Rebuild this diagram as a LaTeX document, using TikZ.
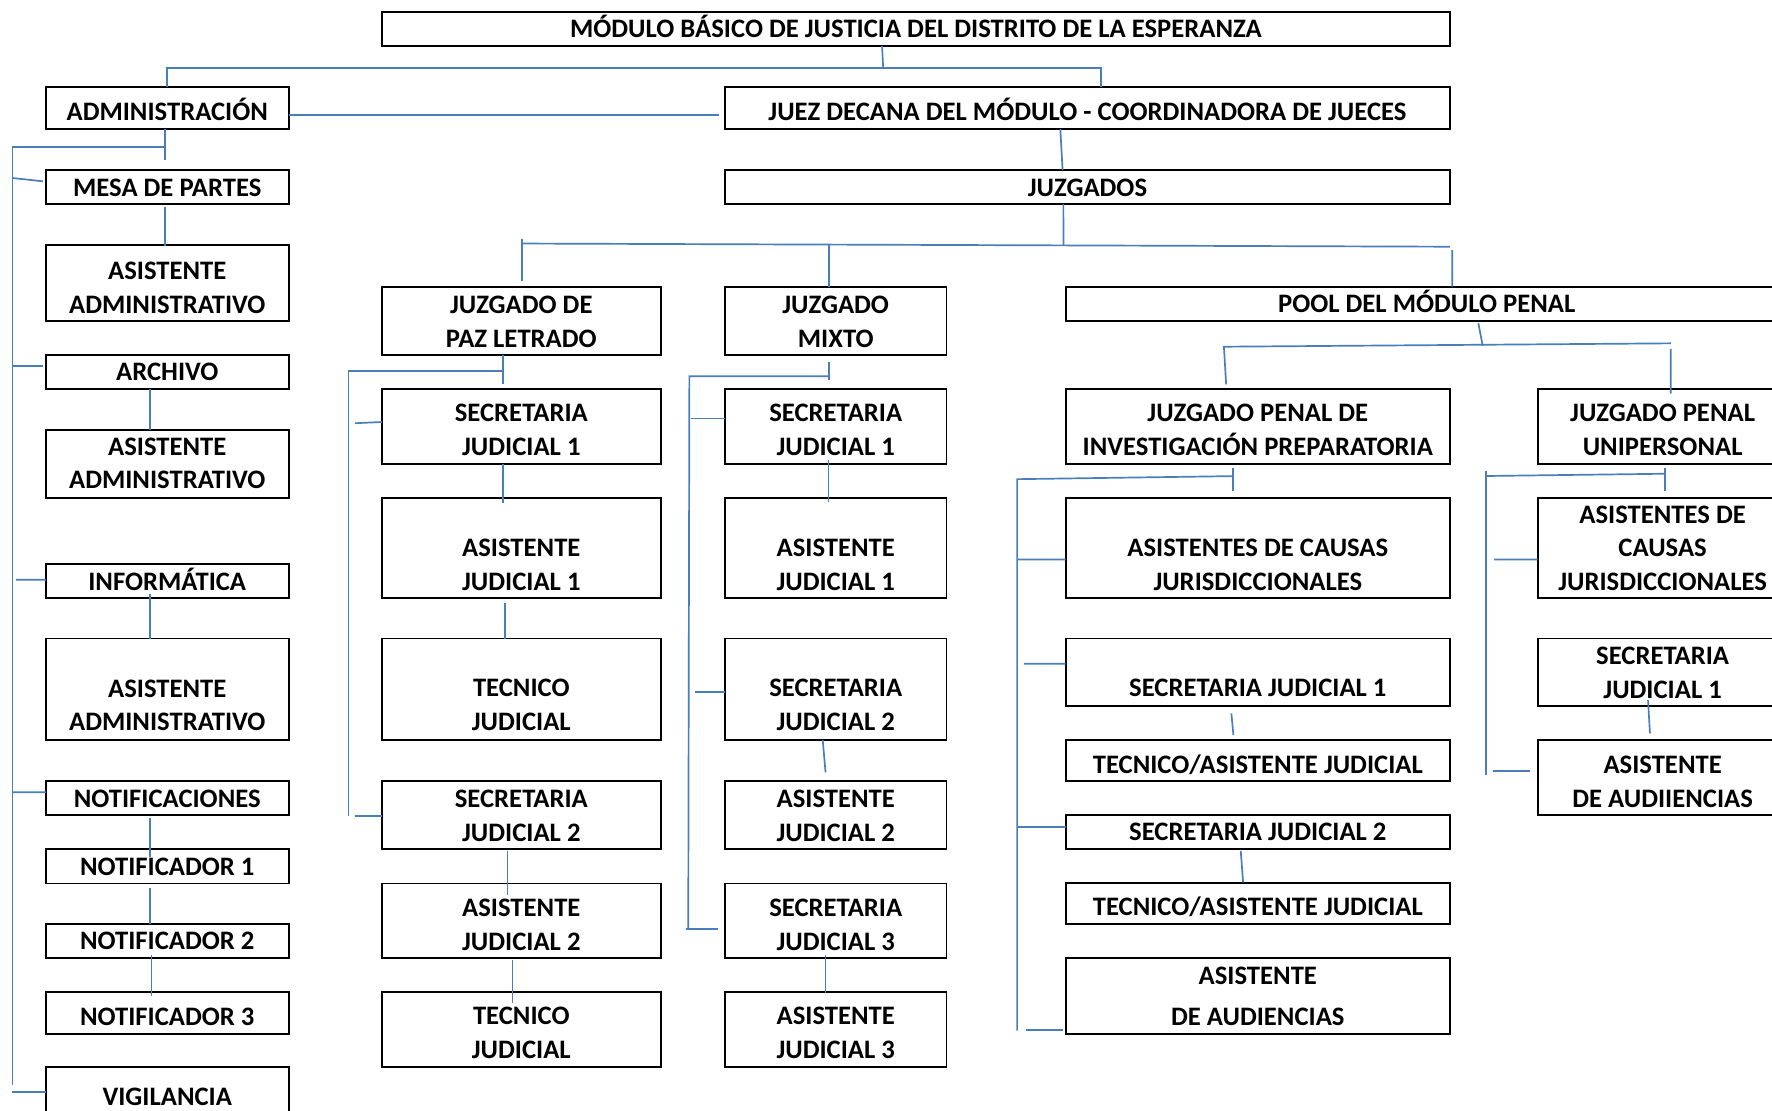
\documentclass[tikz,border=0pt]{standalone}
\usepackage{fontspec}
\setmainfont{Carlito}
\definecolor{wireblue}{RGB}{74,126,187}
\tikzset{
  box/.style={draw=black, line width=1.6pt, inner sep=0pt, outer sep=0pt},
  lbl/.style={font=\bfseries\fontsize{23.6}{30}\selectfont, align=center, inner sep=0pt, outer sep=0pt},
  lbl1/.style={lbl, text height=15pt, text depth=0pt},
  wire/.style={draw=wireblue, line width=1.5pt},
}
\newcommand{\bx}[5]{\node[box, minimum width={#4-#2}, minimum height={#5-#3}] (#1) at ({(#2+#4)/2},{(#3+#5)/2}) {};}
\begin{document}
\begin{tikzpicture}[x=1pt,y=-1pt]
\fill[white] (0,0) rectangle (1568,983);
\useasboundingbox (0,0) rectangle (1568,983);

% ---------- boxes ----------
\bx{top}{338}{10.5}{1283}{40.7}
\bx{admin}{40.5}{76.7}{255.5}{114.2}
\bx{juez}{641.5}{76.7}{1283}{114.2}
\bx{mesa}{40.5}{150.4}{255.5}{180.5}
\bx{juzg}{641.5}{150.4}{1283}{180.5}
\bx{aa1}{40.5}{216.8}{255.5}{284}
\bx{archivo}{40.5}{314.1}{255.5}{344.5}
\bx{aa2}{40.5}{380.5}{255.5}{440.4}
\bx{inf}{40.5}{499}{255.5}{529.2}
\bx{aa3}{40.5}{565}{255.5}{654.8}
\bx{notif}{40.5}{691}{255.5}{721.2}
\bx{n1}{40.5}{751.3}{255.5}{781.7}
\bx{n2}{40.5}{817.4}{255.5}{848}
\bx{n3}{40.5}{878}{255.5}{915}
\bx{vig}{40.5}{944}{255.5}{1010}

\bx{jpl}{338}{253.7}{584.6}{314.1}
\bx{sj1a}{338}{344.2}{584.6}{410.6}
\bx{aj1a}{338}{440.4}{584.6}{529.2}
\bx{tj1a}{338}{565}{584.6}{654.8}
\bx{sj2a}{338}{691}{584.6}{751.3}
\bx{aj2a}{338}{781.7}{584.6}{848}
\bx{tj2a}{338}{878}{584.6}{944}

\bx{mixto}{641.5}{253.7}{837.5}{314.1}
\bx{sj1b}{641.5}{344.2}{837.5}{410.6}
\bx{aj1b}{641.5}{440.4}{837.5}{529.2}
\bx{sj2b}{641.5}{565}{837.5}{654.8}
\bx{aj2b}{641.5}{691}{837.5}{751.3}
\bx{sj3b}{641.5}{781.7}{837.5}{848}
\bx{aj3b}{641.5}{878}{837.5}{944}

\bx{pool}{943.3}{253.7}{1582}{284}
\bx{jpip}{943}{344.2}{1283}{410.6}
\bx{acj1}{943}{440.4}{1283}{529.2}
\bx{psj1}{943}{565}{1283}{624.7}
\bx{ptaj1}{943}{654.5}{1283}{691}
\bx{psj2}{943}{721.2}{1283}{751.3}
\bx{ptaj2}{943}{781.4}{1283}{817.7}
\bx{paud}{943}{847.4}{1283}{915}

\bx{unip}{1360.6}{344.2}{1582}{410.6}
\bx{uacj}{1360.6}{440.4}{1582}{529.2}
\bx{usj1}{1360.6}{565}{1582}{624.7}
\bx{uaud}{1360.6}{654.5}{1582}{721.2}

% ---------- texts ----------
\node[lbl1] (top-t) at (810.5,26) {MÓDULO BÁSICO DE JUSTICIA DEL DISTRITO DE LA ESPERANZA};
\node[lbl1] (admin-t) at (148,98.8) {ADMINISTRACIÓN};
\node[lbl1] (juez-t) at (962.3,98.8) {JUEZ DECANA DEL MÓDULO - COORDINADORA DE JUECES};
\node[lbl1] (mesa-t) at (148,166) {MESA DE PARTES};
\node[lbl1] (juzg-t) at (962.3,166) {JUZGADOS};
\node[lbl] (aa1-t) at (148,254.4) {ASISTENTE\\ADMINISTRATIVO};
\node[lbl1] (archivo-t) at (148,329) {ARCHIVO};
\node[lbl] (aa2-t) at (148,410) {ASISTENTE\\ADMINISTRATIVO};
\node[lbl1] (inf-t) at (148,514.7) {INFORMÁTICA};
\node[lbl] (aa3-t) at (148,624.1) {ASISTENTE\\ADMINISTRATIVO};
\node[lbl1] (notif-t) at (148,707) {NOTIFICACIONES};
\node[lbl1] (n1-t) at (148,767) {NOTIFICADOR 1};
\node[lbl1] (n2-t) at (148,833) {NOTIFICADOR 2};
\node[lbl1] (n3-t) at (148,899.6) {NOTIFICADOR 3};
\node[lbl1] (vig-t) at (148,970.5) {VIGILANCIA};

\node[lbl] (jpl-t) at (461.3,284.4) {JUZGADO DE\\PAZ LETRADO};
\node[lbl] (sj1a-t) at (461.3,380.5) {SECRETARIA\\JUDICIAL 1};
\node[lbl] (aj1a-t) at (461.3,500) {ASISTENTE\\JUDICIAL 1};
\node[lbl] (tj1a-t) at (461.3,624) {TECNICO\\JUDICIAL};
\node[lbl] (sj2a-t) at (461.3,721.8) {SECRETARIA\\JUDICIAL 2};
\node[lbl] (aj2a-t) at (461.3,818) {ASISTENTE\\JUDICIAL 2};
\node[lbl] (tj2a-t) at (461.3,914.3) {TECNICO\\JUDICIAL};

\node[lbl] (mixto-t) at (739.5,284.4) {JUZGADO\\MIXTO};
\node[lbl] (sj1b-t) at (739.5,380.5) {SECRETARIA\\JUDICIAL 1};
\node[lbl] (aj1b-t) at (739.5,500) {ASISTENTE\\JUDICIAL 1};
\node[lbl] (sj2b-t) at (739.5,624) {SECRETARIA\\JUDICIAL 2};
\node[lbl] (aj2b-t) at (739.5,721.8) {ASISTENTE\\JUDICIAL 2};
\node[lbl] (sj3b-t) at (739.5,818) {SECRETARIA\\JUDICIAL 3};
\node[lbl] (aj3b-t) at (739.5,914.3) {ASISTENTE\\JUDICIAL 3};

\node[lbl1] (pool-t) at (1262.5,269.3) {POOL DEL MÓDULO PENAL};
\node[lbl] (jpip-t) at (1113,380.5) {JUZGADO PENAL DE\\INVESTIGACIÓN PREPARATORIA};
\node[lbl] (acj1-t) at (1113,500) {ASISTENTES DE CAUSAS\\JURISDICCIONALES};
\node[lbl1] (psj1-t) at (1113,609.1) {SECRETARIA JUDICIAL 1};
\node[lbl1] (ptaj1-t) at (1113,677) {TECNICO/ASISTENTE JUDICIAL};
\node[lbl1] (psj2-t) at (1113,736.5) {SECRETARIA JUDICIAL 2};
\node[lbl1] (ptaj2-t) at (1113,802.9) {TECNICO/ASISTENTE JUDICIAL};
\node[lbl] (paud-t) at (1113,881.5) {ASISTENTE\\[6pt]DE AUDIENCIAS};

\node[lbl] (unip-t) at (1471.2,380.5) {JUZGADO PENAL\\UNIPERSONAL};
\node[lbl,font=\bfseries\fontsize{23.6}{29.5}\selectfont] (uacj-t) at (1471.2,485.2) {ASISTENTES DE\\CAUSAS\\JURISDICCIONALES};
\node[lbl] (usj1-t) at (1471.2,595) {SECRETARIA\\JUDICIAL 1};
\node[lbl] (uaud-t) at (1471.2,691.7) {ASISTENTE\\DE AUDIIENCIAS};

% ---------- junction coordinates ----------
\coordinate (tj) at (781.5,60);
\coordinate (tR) at (974,60);
\coordinate (jb) at (941,217);
\coordinate (jbL) at (462,215.5);
\coordinate (jbR) at (1283,218.3);
\coordinate (jbM) at (733.5,217.2);
\coordinate (pd) at (1285,221);
\coordinate (lb) at (146,130);
\coordinate (lt) at (11,130);
\coordinate (lbot) at (11,960);
\coordinate (km) at (11,157.5);
\coordinate (ka) at (11,324);
\coordinate (ki) at (14,513);
\coordinate (kn) at (11,701);
\coordinate (kv) at (11,966);
\coordinate (pb) at (445,328);
\coordinate (ps) at (308.5,328);
\coordinate (psb) at (308.5,722);
\coordinate (p1) at (314,374.5);
\coordinate (p2) at (314,722);
\coordinate (mb) at (733.5,333);
\coordinate (ms) at (610,333);
\coordinate (msb) at (609,822);
\coordinate (m1) at (611,370.2);
\coordinate (m2) at (615,612.4);
\coordinate (m3) at (607,822);
\coordinate (qj) at (1312,306);
\coordinate (qL) at (1082,306.8);
\coordinate (qR) at (1478.4,303.8);
\coordinate (rj) at (1091,421.3);
\coordinate (rL) at (900,424);
\coordinate (rs) at (900,912);
\coordinate (r1) at (900,495);
\coordinate (r2) at (906,587.3);
\coordinate (r3) at (900,731.5);
\coordinate (r4) at (907.5,911.4);
\coordinate (uj) at (1473.2,419.2);
\coordinate (uL) at (1315,421.2);
\coordinate (ubot) at (1315,685.8);
\coordinate (u1) at (1322,495);
\coordinate (u2) at (1321,682.3);

% ---------- connectors ----------
\draw[wire] ([xshift=-30pt]top.south) -- (tj);
\draw[wire] (admin.north) |- (tR) -- (tR |- juez.north);
\draw[wire] ([yshift=-6pt]admin.east) -- ([yshift=-6pt,xshift=-5pt]juez.west);
\draw[wire] ([xshift=-24pt]juez.south) -- ([xshift=-22pt]juzg.north);
\draw[wire] ([xshift=-21.3pt]juzg.south) -- (jb);
\draw[wire] (jbL) -- (jbR);
\draw[wire] ([yshift=4pt]jbL) -- ([xshift=0.7pt,yshift=5pt]jpl.north);
\draw[wire] (jbM) -- ([xshift=-6pt]mixto.north);
\draw[wire] (pd) -- ([xshift=22.4pt]pool.north);

% left column
\draw[wire] ([xshift=-2pt]admin.south) -- ([yshift=-11.6pt]lb);
\draw[wire] (lb) -- (lt) -- (lbot);
\draw[wire] (km) -- ([xshift=-2.5pt,yshift=5pt]mesa.west);
\draw[wire] (ka) -- ([xshift=-2.5pt,yshift=5.3pt]archivo.west);
\draw[wire] (ki) -- ([yshift=1.1pt]inf.west);
\draw[wire] (kn) -- ([yshift=5.1pt]notif.west);
\draw[wire] (kv) -- ([yshift=11pt]vig.west);
\draw[wire] ([xshift=-2pt,yshift=-2.5pt]mesa.south) -- ([xshift=-2pt,yshift=-1.2pt]aa1.north);
\draw[wire] ([xshift=-15pt]archivo.south) -- ([xshift=-15pt]aa2.north);
\draw[wire] ([xshift=-15pt,yshift=4pt]inf.south) -- ([xshift=-15pt]aa3.north);
\draw[wire] ([xshift=-15pt,yshift=-3pt]notif.south) -- ([xshift=-15pt,yshift=-7pt]n1.north);
\draw[wire] ([xshift=-15pt,yshift=-4pt]n1.south) -- ([xshift=-15pt]n2.north);
\draw[wire] ([xshift=-14pt,yshift=3pt]n2.south) -- ([xshift=-14pt,yshift=-3pt]n3.north);

% juzgado de paz letrado
\draw[wire] ([xshift=-16.3pt]jpl.south) -- ([yshift=-12pt]pb);
\draw[wire] (pb) -- (ps) -- (psb);
\draw[wire] (p1) -- ([yshift=4pt]sj1a.west);
\draw[wire] (p2) -- ([yshift=-0.85pt]sj2a.west);
\draw[wire] ([xshift=-16.3pt]sj1a.south) -- ([xshift=-16.3pt,yshift=-4.5pt]aj1a.north);
\draw[wire] ([xshift=-14.3pt,yshift=-4pt]aj1a.south) -- ([xshift=-14.3pt]tj1a.north);
\draw[wire] ([xshift=-12.3pt,yshift=-1.7pt]sj2a.south) -- ([xshift=-12.3pt,yshift=-10pt]aj2a.north);
\draw[wire] ([xshift=-7.8pt,yshift=-1.5pt]aj2a.south) -- ([xshift=-7.8pt,yshift=-9.5pt]tj2a.north);

% juzgado mixto
\draw[wire] ([xshift=-6pt,yshift=-6pt]mixto.south) -- ([yshift=-3pt]mb);
\draw[wire] (mb) -- (ms) -- (msb);
\draw[wire] (m1) -- ([yshift=7.2pt]sj1b.west);
\draw[wire] (m2) -- ([yshift=-2.5pt]sj2b.west);
\draw[wire] (m3) -- ([xshift=-6pt,yshift=-7.2pt]sj3b.west);
\draw[wire] ([xshift=-6.5pt,yshift=3.5pt]sj1b.south) -- ([xshift=-6.5pt,yshift=-3.5pt]aj1b.north);
\draw[wire] ([xshift=-11.5pt]sj2b.south) -- ([xshift=-9pt,yshift=7.6pt]aj2b.north);
\draw[wire] ([xshift=-9pt,yshift=3pt]sj3b.south) -- ([xshift=-9pt,yshift=-1pt]aj3b.north);

% pool
\draw[wire] ([xshift=45.5pt,yshift=-2pt]pool.south) -- (qj);
\draw[wire] (qL) -- (qR);
\draw[wire] ([xshift=1pt]qL) -- ([xshift=-28pt,yshift=4pt]jpip.north);
\draw[wire] ([yshift=-5pt]qR) -- ([xshift=7.1pt,yshift=-4pt]unip.north);

% investigacion preparatoria
\draw[wire] ([xshift=-22pt,yshift=-3.8pt]jpip.south) -- ([xshift=-22pt,yshift=6.2pt]acj1.north);
\draw[wire] (rj) -- (rL) -- (rs);
\draw[wire] (r1) -- ([yshift=-10.2pt]acj1.west);
\draw[wire] (r2) -- ([yshift=7.55pt]psj1.west);
\draw[wire] (r3) -- ([yshift=4.75pt]psj2.west);
\draw[wire] (r4) -- ([xshift=-2.5pt,yshift=-30.2pt]paud.west);
\draw[wire] ([xshift=-23.4pt,yshift=-6.5pt]psj1.south) -- ([xshift=-21.6pt,yshift=4.1pt]ptaj1.north);
\draw[wire] ([xshift=-15.1pt,yshift=-1.7pt]psj2.south) -- ([xshift=-13pt,yshift=0.6pt]ptaj2.north);

% unipersonal
\draw[wire] ([xshift=1.9pt,yshift=-3.8pt]unip.south) -- ([xshift=1.9pt,yshift=6.2pt]uacj.north);
\draw[wire] (uj) -- (uL);
\draw[wire] ([yshift=4.7pt]uL) -- (ubot);
\draw[wire] (u1) -- ([yshift=-10.2pt]uacj.west);
\draw[wire] (u2) -- ([xshift=-6.6pt,yshift=5.55pt]uaud.west);
\draw[wire] ([xshift=-13pt,yshift=5.2pt]usj1.south) -- ([xshift=-11.3pt,yshift=5.5pt]uaud.north);
\end{tikzpicture}
\end{document}
